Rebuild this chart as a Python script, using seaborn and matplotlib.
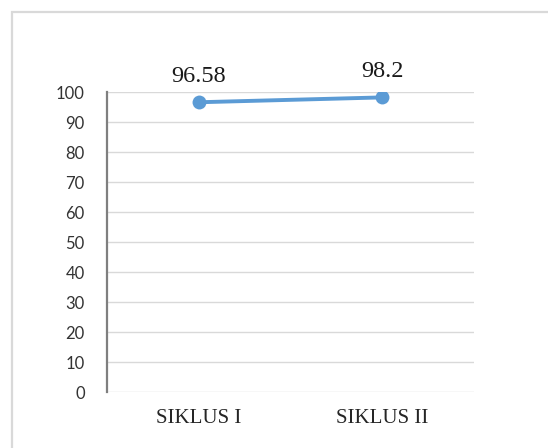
import matplotlib
matplotlib.use("Agg")
import matplotlib.pyplot as plt
from matplotlib.patches import Rectangle
import pandas as pd
import seaborn as sns

# data
siklus = ["SIKLUS I", "SIKLUS II"]
nilai = [96.58, 98.2]
label_teks = ["96.58", "98.2"]
y_ticks = [0, 10, 20, 30, 40, 50, 60, 70, 80, 90, 100]

df = pd.DataFrame({"siklus": siklus, "nilai": nilai})

sns.set_theme(style="white")
W, H = 548, 448
fig = plt.figure(figsize=(W / 100, H / 100), dpi=100)
ax = fig.add_axes([107 / W, 1 - 392 / H, (474 - 107) / W, 300 / H])

sns.lineplot(data=df, x="siklus", y="nilai", ax=ax, color="#5B9BD5",
             linewidth=2.8, marker="o", markersize=10, markeredgewidth=0,
             sort=False)

# data labels above the points
for i, (v, t) in enumerate(zip(nilai, label_teks)):
    ax.annotate(t, (i, v), xytext=(0, 11), textcoords="offset points",
                ha="center", va="bottom", fontsize=17.5,
                family="Liberation Serif", color="#1a1a1a")

ax.set_xlim(-0.5, 1.5)
ax.set_ylim(0, 100)
ax.set_yticks(y_ticks)
ax.yaxis.grid(True, color="#D9D9D9", linewidth=1)
ax.xaxis.grid(False)
ax.set_xlabel("")
ax.set_ylabel("")

for s in ["top", "right", "bottom"]:
    ax.spines[s].set_visible(False)
ax.spines["left"].set_color("#7f7f7f")
ax.spines["left"].set_linewidth(1.6)
ax.spines["left"].set_zorder(5)

ax.tick_params(axis="both", length=0)
ax.tick_params(axis="y", pad=16, labelsize=12, labelcolor="#333333")
ax.tick_params(axis="x", pad=12, labelsize=15, labelcolor="#262626")
for lab in ax.get_yticklabels():
    lab.set_family("Lato")
for lab in ax.get_xticklabels():
    lab.set_family("Liberation Serif")

# outer chart-area border (cut off at right and bottom)
fig.patches.append(Rectangle((12 / W, -0.1), 1.2, 1.1 - 12 / H,
                             transform=fig.transFigure, fill=False,
                             edgecolor="#D9D9D9", linewidth=1.6))

fig.savefig("out.png", dpi=100)
